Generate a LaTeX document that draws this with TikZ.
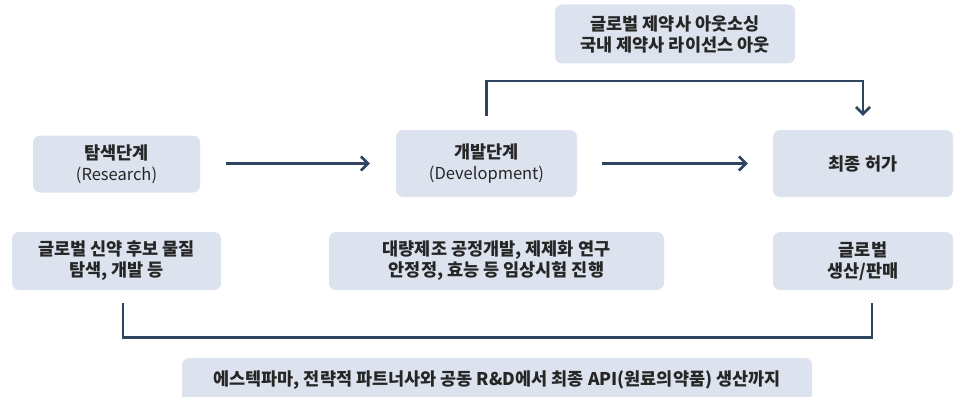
\documentclass[tikz,border=0pt]{standalone}
\usepackage{fontspec}
\setmainfont{Noto Sans CJK KR}
\usetikzlibrary{arrows.meta}
\definecolor{boxfill}{HTML}{DCE3EE}
\definecolor{linecol}{HTML}{2E4460}
\definecolor{txt}{HTML}{262626}
\tikzset{
  box/.style={fill=boxfill, draw=none, rounded corners=7pt, align=center,
    text=txt, font=\fontsize{17.5}{21}\selectfont\bfseries, inner sep=0pt},
  conn/.style={draw=linecol, line width=2.6pt},
  arr/.style={conn, -{Straight Barb[length=7pt,width=14pt,line width=2.6pt]}}
}
\newcommand{\latn}[1]{{\fontsize{16.5}{21}\selectfont\mdseries #1}}
\begin{document}
\begin{tikzpicture}[x=1pt,y=-1pt]
\useasboundingbox (0,0) rectangle (955,396);
\node[box, minimum width=167pt, minimum height=57pt] (res) at (116.5,164) {탐색단계\\\latn{(Research)}};
\node[box, minimum width=181pt, minimum height=67pt] (dev) at (486.5,163.5) {개발단계\\\latn{(Development)}};
\node[box, minimum width=180pt, minimum height=67pt] (fin) at (863,163.5) {최종 허가};
\node[box, minimum width=240pt, minimum height=59pt] (top) at (675,34) {글로벌 제약사 아웃소싱\\국내 제약사 라이선스 아웃};
\node[box, minimum width=209pt, minimum height=58pt] (g1) at (116.5,261) {글로벌 신약 후보 물질\\탐색, 개발 등};
\node[box, minimum width=335pt, minimum height=58pt] (mass) at (496.5,261) {대량제조 공정개발, 제제화 연구\\안정정, 효능 등 임상시험 진행};
\node[box, minimum width=180pt, minimum height=58pt] (g2) at (863,261) {글로벌\\생산/판매};
\node[box, minimum width=630pt, minimum height=44pt] (bot) at (497,380) {에스텍파마, 전략적 파트너사와 공동 R\&D에서 최종 API(원료의약품) 생산까지};
\draw[arr, shorten <=26pt, shorten >=26pt] (res.east |- dev) -- (dev.west);
\draw[arr, shorten <=25pt, shorten >=25pt] (dev.east) -- (fin.west);
\draw[arr] ([yshift=14pt]dev.north) -- ++(0,-35) -| ([yshift=14pt]fin.north);
\draw[conn] ([xshift=6.5pt,yshift=-13pt]g1.south) -- ++(0,34) -| ([xshift=9pt,yshift=-13pt]g2.south);
\end{tikzpicture}
\end{document}
